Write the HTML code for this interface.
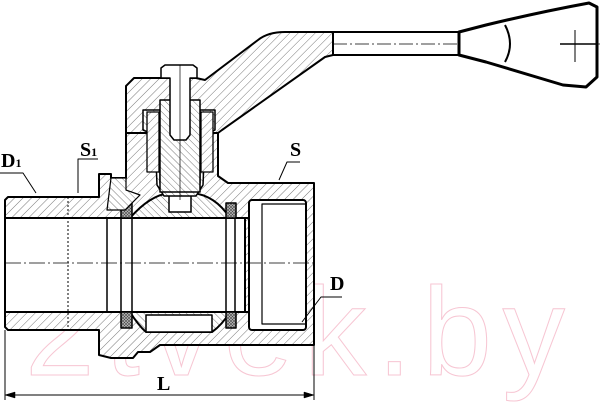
<!DOCTYPE html>
<html><head><meta charset="utf-8"><style>
html,body{margin:0;padding:0;background:#fff;width:600px;height:403px;overflow:hidden}
svg{display:block}
text{font-family:"Liberation Serif",serif;font-weight:bold;fill:#000}
</style></head><body>
<svg width="600" height="403" viewBox="0 0 600 403" xmlns="http://www.w3.org/2000/svg">
<defs>
<pattern id="h" width="6" height="6" patternUnits="userSpaceOnUse" patternTransform="rotate(45)">
<rect width="6" height="6" fill="#fff"/><line x1="0" y1="0" x2="0" y2="6" stroke="#555" stroke-width="0.8"/></pattern>
<pattern id="h2" width="5" height="5" patternUnits="userSpaceOnUse" patternTransform="rotate(-45)">
<rect width="5" height="5" fill="#fff"/><line x1="0" y1="0" x2="0" y2="5" stroke="#555" stroke-width="0.8"/></pattern>
<pattern id="x" width="3" height="3" patternUnits="userSpaceOnUse">
<rect width="3" height="3" fill="#bbb"/><path d="M0,0L3,3M3,0L0,3" stroke="#444" stroke-width="0.6"/></pattern>
</defs>
<!-- watermark -->
<text x="25" y="375" font-size="125" style="font-family:'Liberation Sans',sans-serif;font-weight:normal;fill:none;stroke:#f7c6d3;stroke-width:1" textLength="540">2tvek.by</text>
<g stroke="#000" stroke-width="2" stroke-linejoin="round">
<path fill="url(#h)" d="M5,200 L8,197 L99,197 L99,174 L111,174 L111,178 L126,178 L126,133 L218,133 L218,176 L228,183 L314,183 L314,345 L160,345 L150,352 L138,352 L133,358 L111,358 L99,355 L99,330 L8,330 L5,327 Z"/>
<rect x="5" y="218" width="240" height="94" fill="#fff"/>
<rect x="249" y="200" width="57" height="130" fill="#fff" rx="3"/>
<line x1="245" y1="218" x2="249" y2="218"/><line x1="245" y1="312" x2="249" y2="312"/>
<rect x="262" y="204" width="44" height="120" fill="none" stroke-width="1.2"/>
<line x1="68" y1="197" x2="68" y2="330" stroke-width="1" stroke-dasharray="2,2"/>
<line x1="107" y1="218" x2="107" y2="312" stroke-width="1.5"/>
<line x1="121" y1="218" x2="121" y2="312" stroke-width="1.5"/>
<line x1="132" y1="218" x2="132" y2="312" stroke-width="1.5"/>
<line x1="226" y1="218" x2="226" y2="312" stroke-width="1.5"/>
<line x1="235" y1="218" x2="235" y2="312" stroke-width="1.5"/>
<path fill="url(#h2)" d="M130,218 Q150,195 170,193 L192,193 Q215,195 230,218 Z"/>
<rect x="169" y="192" width="22" height="20" fill="#fff" stroke-width="1.5"/>
<path fill="url(#h2)" d="M130,312 L230,312 Q222,325 212,332 L146,332 Q138,325 130,312 Z"/>
<rect x="146" y="315" width="66" height="17" fill="#fff" stroke-width="1.5"/>
<rect x="121" y="203" width="11" height="15" fill="url(#x)" stroke-width="1.5"/>
<rect x="226" y="203" width="10" height="15" fill="url(#x)" stroke-width="1.5"/>
<rect x="121" y="312" width="11" height="16" fill="url(#x)" stroke-width="1.5"/>
<rect x="226" y="312" width="10" height="16" fill="url(#x)" stroke-width="1.5"/>
<path fill="url(#h2)" d="M111,178 L126,178 L126,190 L140,195 L125,210 L107,210 Z" stroke-width="1.2"/>
<path fill="url(#h)" d="M126,133 L126,86 L134,78 L196,78 L205,80 L258,40 Q268,32 285,32 L333,32 L333,55 L325,57 L222,130 L218,133 Z"/>
<path fill="#fff" d="M333,32 L459,32 L459,55 L333,55 Z"/>
<line x1="333" y1="44" x2="600" y2="44" stroke-width="0.8" stroke-dasharray="14,3,2,3"/>
<path fill="#fff" stroke-width="3" d="M459,32 L486,25 Q540,12 589,3 L597,7 L597,77 L586,87 L563,85 Q520,72 486,62 L459,55 Z"/>
<path fill="none" stroke-width="2" d="M505,25 Q515,44 505,62"/>
<line x1="575" y1="30" x2="575" y2="62" stroke-width="1"/>
<line x1="560" y1="44" x2="597" y2="44" stroke-width="1.5"/>
<path fill="url(#h2)" d="M143,110 L160,110 L160,183 L165,190 L195,190 L200,183 L200,110 L215,110 L215,130 L205,135 L203,185 L196,196 L164,196 L157,185 L155,135 L143,130 Z" stroke-width="1.5"/>
<rect x="160" y="100" width="40" height="92" fill="url(#h2)" stroke-width="1.5"/>
<rect x="147" y="112" width="12" height="60" fill="url(#h)" stroke-width="1.3"/>
<rect x="201" y="112" width="12" height="60" fill="url(#h)" stroke-width="1.3"/>
<path fill="#fff" d="M161,78 L161,68 L165,65 L193,65 L197,68 L197,78 L190,78 L190,135 L186,140 L174,140 L170,135 L170,78 Z" stroke-width="1.5"/>
<line x1="180" y1="65" x2="180" y2="200" stroke-width="0.7"/>
<line x1="5" y1="263" x2="314" y2="263" stroke-width="0.8" stroke-dasharray="16,3,2,3"/>
<line x1="5" y1="330" x2="5" y2="400" stroke-width="1"/>
<line x1="314" y1="345" x2="314" y2="400" stroke-width="1"/>
<line x1="5" y1="395" x2="314" y2="395" stroke-width="1"/>
<path d="M5,395 L15,392 L15,398 Z M314,395 L304,392 L304,398 Z" fill="#000" stroke-width="0.5"/>
<polyline points="0,173 23,173 36,193" fill="none" stroke-width="1"/>
<polyline points="98,159 78,159 78,193" fill="none" stroke-width="1"/>
<polyline points="300,162 287,162 279,180" fill="none" stroke-width="1"/>
<polyline points="342,297 321,297 302,322" fill="none" stroke-width="1"/>
</g>
<text x="1" y="167" font-size="20">D<tspan font-size="12">1</tspan></text>
<text x="80" y="156" font-size="20">S<tspan font-size="12">1</tspan></text>
<text x="290" y="156" font-size="20">S</text>
<text x="330" y="290" font-size="20">D</text>
<text x="157" y="390" font-size="20">L</text>
</svg>
</body></html>
